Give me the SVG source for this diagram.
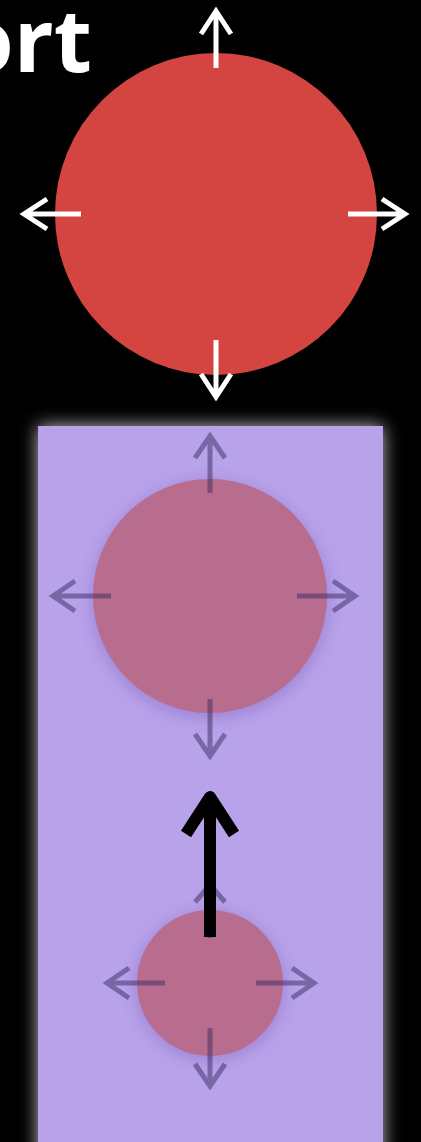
<svg xmlns="http://www.w3.org/2000/svg" width="421" height="1142" viewBox="0 0 421 1142">
  <defs>
    <style>
      .w { stroke: #ffffff; stroke-width: 5; fill: none; stroke-linecap: butt; stroke-linejoin: miter; }
      .g { stroke: #3A2A60; stroke-opacity: 0.5; stroke-width: 5; fill: none; stroke-linejoin: miter; }
      .ball { fill: #B86C8E; }
    </style>
    <filter id="glow" x="-20%" y="-20%" width="140%" height="140%">
      <feGaussianBlur stdDeviation="9"/>
    </filter>
    <filter id="shadow" x="-30%" y="-30%" width="160%" height="160%">
      <feGaussianBlur stdDeviation="8"/>
    </filter>
  </defs>
  <rect x="0" y="0" width="421" height="1142" fill="#000000"/>
  <text x="92" y="72" font-family="'Open Sans', 'Liberation Sans', sans-serif" font-weight="700" font-size="88" fill="#ffffff" text-anchor="end">ort</text>

  <g id="top-ball">
    <circle cx="216" cy="214" r="161" fill="#D44541"/>
  </g>

  <g id="viewport">
    <rect x="38" y="426" width="345" height="740" fill="#ffffff" opacity="0.75" filter="url(#glow)"/>
    <rect x="38" y="426" width="345" height="740" fill="#B8A2EA"/>
  </g>

  <g id="ball-2">
    <circle cx="210" cy="600" r="118" fill="#6A4AA8" opacity="0.35" filter="url(#shadow)"/>
    <circle class="ball" cx="210" cy="596" r="117"/>
  </g>

  <g id="ball-3">
    <circle cx="210" cy="986" r="74" fill="#6A4AA8" opacity="0.35" filter="url(#shadow)"/>
    <circle class="ball" cx="210" cy="983" r="73"/>
  </g>

  <g id="connectors">
    <path class="w" d="M216 68 V11 M201 34 L216 11 L231 34"/>
    <path class="w" d="M216 340 V397 M201 374 L216 397 L231 374"/>
    <path class="w" d="M81 214 H24 M47 199 L24 214 L47 229"/>
    <path class="w" d="M348 214 H405 M382 199 L405 214 L382 229"/>
    <path class="g" d="M210 493 V436 M195 458 L210 436 L225 458"/>
    <path class="g" d="M210 699 V756 M195 734 L210 756 L225 734"/>
    <path class="g" d="M111 596 H53 M75 581 L53 596 L75 611"/>
    <path class="g" d="M297 596 H355 M333 581 L355 596 L333 611"/>
    <path class="g" d="M210 938 V885 M195 902 L210 885 L225 902"/>
    <path class="g" d="M210 1028 V1086 M195 1064 L210 1086 L225 1064"/>
    <path class="g" d="M165 983 H107 M129 968 L107 983 L129 998"/>
    <path class="g" d="M256 983 H314 M292 968 L314 983 L292 998"/>
    <path d="M210 937 V798 M186 834 L210 797 L234 834" stroke="#000000" stroke-width="12" fill="none" stroke-linejoin="round"/>
  </g>
</svg>
